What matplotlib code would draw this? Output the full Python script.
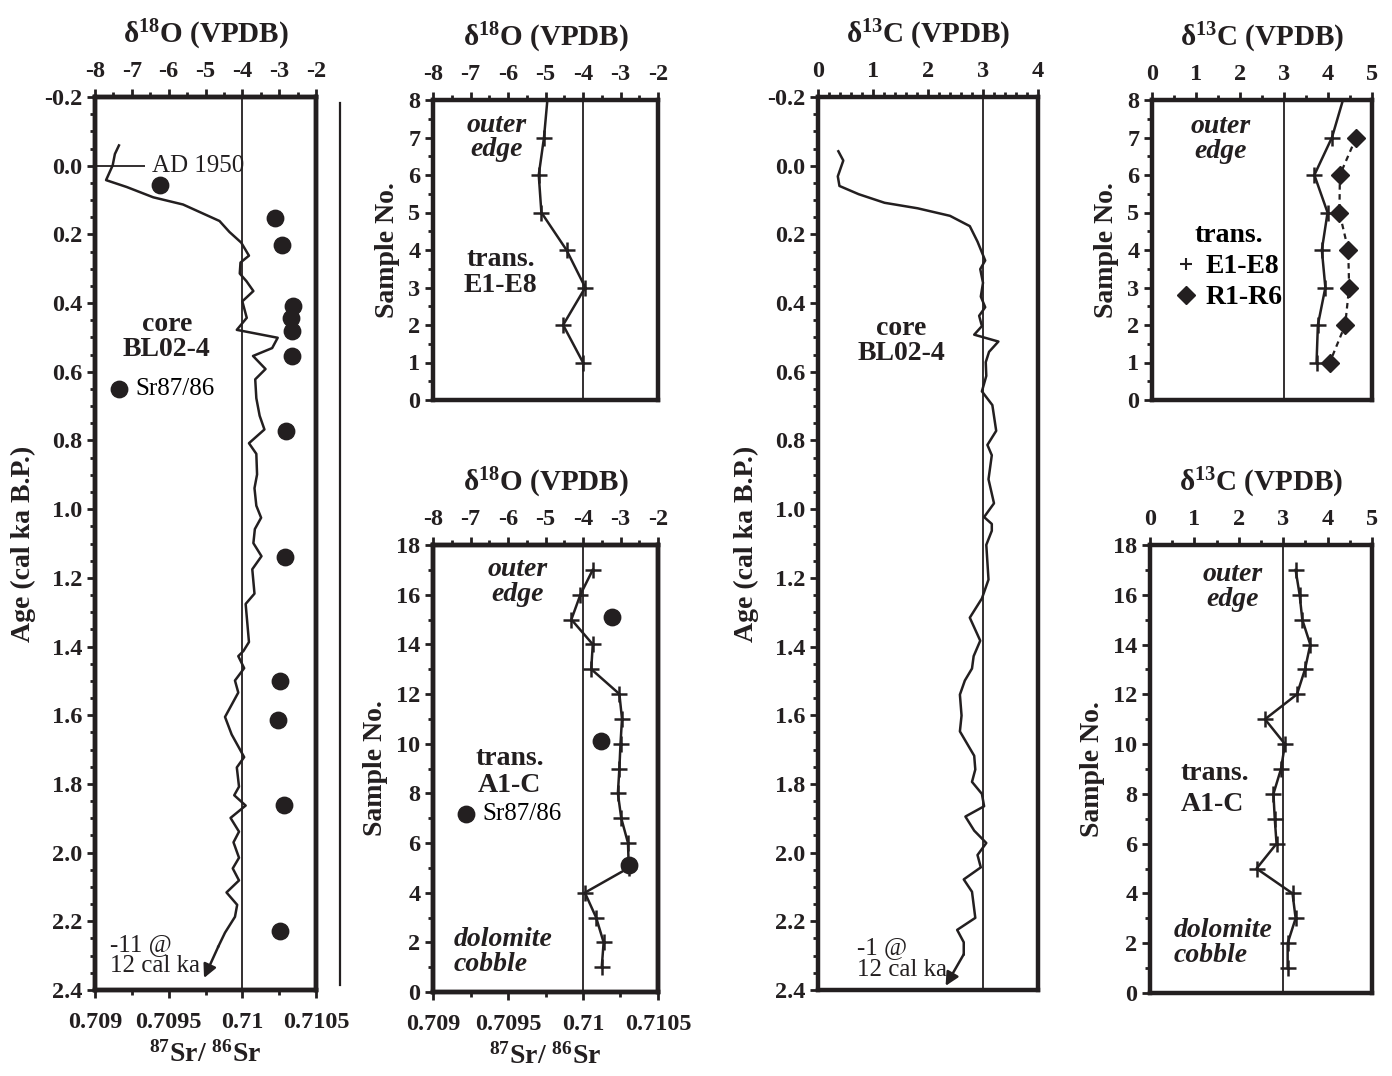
import matplotlib
matplotlib.use("Agg")
import matplotlib.pyplot as plt
from matplotlib.lines import Line2D
from matplotlib.ticker import MultipleLocator, FormatStrFormatter

plt.rcParams['font.family'] = ['Liberation Serif', 'DejaVu Serif']
plt.rcParams['font.weight'] = 'bold'
plt.rcParams['axes.labelweight'] = 'bold'
plt.rcParams['axes.unicode_minus'] = False
plt.rcParams['mathtext.fontset'] = 'custom'
plt.rcParams['mathtext.rm'] = 'Liberation Serif:bold'
plt.rcParams['mathtext.default'] = 'rm'

INK = '#231f20'

# ---- core BL02-4, d18O vs age (cal ka BP) ----
core_o_age = [-0.059, -0.034, -0.001, 0.042, 0.062, 0.092, 0.113, 0.161, 0.193, 0.224,
              0.262, 0.282, 0.314, 0.336, 0.365, 0.395, 0.443, 0.478, 0.501, 0.531,
              0.554, 0.592, 0.622, 0.677, 0.728, 0.768, 0.808, 0.839, 0.899, 0.939,
              0.990, 1.025, 1.058, 1.099, 1.137, 1.175, 1.246, 1.276, 1.387, 1.413,
              1.428, 1.463, 1.499, 1.534, 1.605, 1.656, 1.722, 1.752, 1.808, 1.833,
              1.863, 1.899, 1.939, 1.970, 2.015, 2.046, 2.081, 2.116, 2.152, 2.187,
              2.233, 2.273, 2.365]
core_o = [-7.35, -7.46, -7.52, -7.70, -7.14, -6.42, -5.61, -4.62, -4.35, -4.03,
          -3.82, -4.05, -4.07, -3.89, -3.70, -4.00, -3.88, -4.15, -3.04, -3.19,
          -3.71, -3.37, -3.65, -3.62, -3.53, -3.40, -3.82, -3.62, -3.60, -3.67,
          -3.62, -3.49, -3.66, -3.70, -3.48, -3.73, -3.67, -3.91, -3.82, -3.97,
          -4.11, -3.95, -4.20, -4.11, -4.47, -4.29, -3.95, -4.15, -4.09, -4.22,
          -3.91, -4.32, -4.09, -4.24, -4.09, -4.26, -4.09, -4.43, -4.14, -4.20,
          -4.47, -4.65, -5.04]

# ---- core Sr87/86 ----
core_sr_age = [0.057, 0.151, 0.232, 0.408, 0.443, 0.481, 0.554, 0.771,
               1.139, 1.500, 1.613, 1.861, 2.228]
core_sr = [0.70944, 0.710225, 0.71027, 0.710342, 0.710327, 0.710338, 0.710338,
           0.710298, 0.71029, 0.710255, 0.710245, 0.710283, 0.710255]

# ---- core BL02-4, d13C vs age ----
core_c_age = [-0.042, -0.015, 0.031, 0.059, 0.083, 0.108, 0.124, 0.146, 0.176, 0.221,
              0.276, 0.301, 0.341, 0.381, 0.412, 0.437, 0.467, 0.492, 0.512, 0.542,
              0.572, 0.612, 0.657, 0.697, 0.772, 0.813, 0.843, 0.913, 0.983, 1.023,
              1.043, 1.063, 1.104, 1.205, 1.260, 1.316, 1.383, 1.428, 1.464, 1.499,
              1.540, 1.601, 1.647, 1.688, 1.718, 1.758, 1.794, 1.829, 1.865, 1.895,
              1.936, 1.972, 2.007, 2.043, 2.078, 2.114, 2.190, 2.225, 2.261, 2.296,
              2.388]
core_c = [0.37, 0.46, 0.36, 0.39, 0.74, 1.21, 1.81, 2.40, 2.76, 2.90,
          3.04, 2.95, 3.00, 2.96, 3.04, 2.93, 2.98, 2.84, 3.28, 3.11,
          3.05, 3.06, 2.98, 3.17, 3.24, 3.08, 3.16, 3.10, 3.20, 3.02,
          3.16, 3.16, 3.06, 3.10, 2.98, 2.76, 2.95, 2.83, 2.80, 2.67,
          2.58, 2.61, 2.58, 2.73, 2.84, 2.86, 2.80, 2.98, 3.02, 2.68,
          2.84, 3.06, 2.90, 2.96, 2.65, 2.80, 2.86, 2.53, 2.65, 2.65,
          2.32]

# ---- transect E1-E8 / R1-R6 ----
e_sample = [8, 7, 6, 5, 4, 3, 2, 1]
e_o = [-4.95, -5.04, -5.18, -5.11, -4.44, -3.94, -4.53, -4.00]
e_c = [4.34, 4.09, 3.69, 3.99, 3.86, 3.94, 3.77, 3.74]
r_sample = [7, 6, 5, 4, 3, 2, 1]
r_c = [4.64, 4.27, 4.26, 4.46, 4.48, 4.39, 4.04]

# ---- transect A1-C ----
a_sample = [17, 16, 15, 14, 13, 12, 11, 10, 9, 8, 7, 6, 5, 4, 3, 2, 1]
a_o = [-3.74, -4.07, -4.31, -3.74, -3.78, -3.03, -2.96, -3.00, -3.03, -3.07,
       -2.98, -2.80, -2.78, -3.95, -3.65, -3.45, -3.50]
a_c = [3.28, 3.37, 3.43, 3.61, 3.49, 3.31, 2.59, 3.04, 2.95, 2.78,
       2.81, 2.85, 2.40, 3.21, 3.28, 3.10, 3.10]
a_sr_sample = [15.1, 10.1, 5.1]
a_sr = [0.710195, 0.71012, 0.710305]

sr_ticks = [0.709, 0.7095, 0.710, 0.7105]
sr_labels = ['0.709', '0.7095', '0.71', '0.7105']

O_TITLE = r'δ$^{18}$O (VPDB)'
C_TITLE = r'δ$^{13}$C (VPDB)'
SR_TITLE = r'$^{87}$Sr/ $^{86}$Sr'


def rect(l, t, r, b):
    return [l / 1392, 1 - b / 1076, (r - l) / 1392, (b - t) / 1076]


def frame(ax, xlim, xmin, ylim, ymaj, ymin, yfmt, title, ylabel):
    ax.xaxis.tick_top()
    ax.xaxis.set_label_position('top')
    ax.set_xlim(*xlim)
    ax.set_ylim(*ylim)
    ax.xaxis.set_major_locator(MultipleLocator(1))
    ax.xaxis.set_minor_locator(MultipleLocator(xmin))
    ax.xaxis.set_major_formatter(FormatStrFormatter('%d'))
    ax.yaxis.set_major_locator(MultipleLocator(ymaj))
    ax.yaxis.set_minor_locator(MultipleLocator(ymin))
    ax.yaxis.set_major_formatter(FormatStrFormatter(yfmt))
    ax.tick_params(which='both', direction='out', width=2, color=INK,
                   labelcolor=INK, labelsize=17.5)
    ax.tick_params(which='major', length=6, pad=3)
    ax.tick_params(axis='x', which='major', pad=5)
    ax.tick_params(which='minor', length=3.5)
    for s in ax.spines.values():
        s.set_linewidth(3.2)
        s.set_color(INK)
    ax.set_xlabel(title, fontsize=21, fontweight='bold', labelpad=13, color=INK)
    ax.set_ylabel(ylabel, fontsize=20, fontweight='bold', labelpad=6, color=INK)


def sr_axis(ax):
    tw = ax.twiny()
    tw.set_xlim(0.709, 0.7105)
    tw.xaxis.tick_bottom()
    tw.xaxis.set_label_position('bottom')
    tw.set_xticks(sr_ticks, sr_labels)
    tw.xaxis.set_minor_locator(MultipleLocator(0.00025))
    tw.tick_params(which='both', direction='out', width=2, color=INK,
                   labelcolor=INK, labelsize=17.5)
    tw.tick_params(which='major', length=6, pad=10)
    tw.tick_params(which='minor', length=3.5)
    for s in tw.spines.values():
        s.set_linewidth(3.2)
        s.set_color(INK)
    tw.set_xlabel(SR_TITLE, fontsize=20, fontweight='bold', labelpad=6, color=INK)
    return tw


def sr_legend(tw, ax, x, y, h):
    tw.legend(handles=[h], loc='center left', bbox_to_anchor=(x, y),
              bbox_transform=ax.transData, frameon=False, scatterpoints=1,
              handlelength=0.8, handletextpad=0.25, borderpad=0, borderaxespad=0,
              prop=dict(size=18, weight='normal'))


def core_arrow(ax, xs, ys):
    ax.annotate('', xy=(xs[-1], ys[-1]), xytext=(xs[-2], ys[-2]),
                arrowprops=dict(arrowstyle='-|>', lw=1.8, color=INK,
                                mutation_scale=20, shrinkA=0, shrinkB=0))


fig = plt.figure(figsize=(13.92, 10.76), dpi=100)

# ---------------- panel 1: core d18O + Sr ----------------
ax1 = fig.add_axes(rect(95, 97, 316, 990))
tw1 = sr_axis(ax1)
frame(ax1, (-8, -2), 0.5, (2.4, -0.2), 0.2, 0.05, '%.1f', O_TITLE, 'Age (cal ka B.P.)')
ax1.axvline(-4, color=INK, lw=1.3)
ax1.plot(core_o[:-1], core_o_age[:-1], color=INK, lw=1.8)
core_arrow(ax1, core_o, core_o_age)
ax1.hlines(0, -8, -6.65, color=INK, lw=1.3)
ax1.text(-6.45, 0.0, 'AD 1950', va='center', ha='left', fontsize=18,
         fontweight='normal', color=INK)
ax1.text(-6.05, 0.50, 'core\nBL02-4', ha='center', va='center', fontsize=20,
         linespacing=1.0, color=INK)
ax1.text(-7.6, 2.30, '-11 @\n12 cal ka', ha='left', va='center', fontsize=18,
         fontweight='normal', linespacing=0.95, color=INK)
h1 = tw1.scatter(core_sr, core_sr_age, s=140, color=INK, label='Sr87/86', zorder=5)
sr_legend(tw1, ax1, -7.62, 0.65, h1)

# separator line right of panel 1
fig.add_artist(Line2D([340 / 1392, 340 / 1392], [1 - 103 / 1076, 1 - 985 / 1076],
                      color=INK, lw=1.6))

# ---------------- panel 2: E1-E8 d18O ----------------
ax2 = fig.add_axes(rect(433, 100, 658, 400))
frame(ax2, (-8, -2), 0.5, (0, 8), 1, 0.5, '%d', O_TITLE, 'Sample No.')
ax2.axvline(-4, color=INK, lw=1.3)
ax2.plot(e_o, e_sample, color=INK, lw=1.8, marker='+', ms=11, mew=1.8,
         markevery=slice(1, None))
ax2.text(-6.3, 7.0, 'outer\nedge', style='italic', ha='center', va='center',
         fontsize=20, linespacing=1.0, color=INK)
ax2.text(-6.2, 3.4, 'trans.\nE1-E8', ha='center', va='center', fontsize=20,
         linespacing=1.0, color=INK)

# ---------------- panel 3: A1-C d18O + Sr ----------------
ax3 = fig.add_axes(rect(433, 545, 658, 992))
tw3 = sr_axis(ax3)
frame(ax3, (-8, -2), 0.5, (0, 18), 2, 1, '%d', O_TITLE, 'Sample No.')
ax3.axvline(-4, color=INK, lw=1.3)
ax3.plot(a_o, a_sample, color=INK, lw=1.8, marker='+', ms=11, mew=1.8)
h3 = tw3.scatter(a_sr, a_sr_sample, s=140, color=INK, label='Sr87/86', zorder=5)
sr_legend(tw3, ax3, -7.38, 7.16, h3)
ax3.text(-5.75, 16.5, 'outer\nedge', style='italic', ha='center', va='center',
         fontsize=20, linespacing=1.0, color=INK)
ax3.text(-5.95, 8.85, 'trans.\nA1-C', ha='center', va='center', fontsize=20,
         linespacing=1.1, color=INK)
ax3.text(-7.45, 1.6, 'dolomite\ncobble', style='italic', ha='left', va='center',
         fontsize=20, linespacing=1.0, color=INK)

# ---------------- panel 4: core d13C ----------------
ax4 = fig.add_axes(rect(818, 97, 1038, 990))
frame(ax4, (0, 4), 0.2, (2.4, -0.2), 0.2, 0.05, '%.1f', C_TITLE, 'Age (cal ka B.P.)')
ax4.axvline(3, color=INK, lw=1.3)
ax4.plot(core_c[:-1], core_c_age[:-1], color=INK, lw=1.8)
core_arrow(ax4, core_c, core_c_age)
ax4.text(1.51, 0.51, 'core\nBL02-4', ha='center', va='center', fontsize=20,
         linespacing=1.0, color=INK)
ax4.text(0.71, 2.31, '-1 @\n12 cal ka', ha='left', va='center', fontsize=18,
         fontweight='normal', linespacing=0.95, color=INK)

# ---------------- panel 5: E1-E8 / R1-R6 d13C ----------------
ax5 = fig.add_axes(rect(1152, 100, 1372, 400))
frame(ax5, (0, 5), 0.5, (0, 8), 1, 0.5, '%d', C_TITLE, 'Sample No.')
ax5.axvline(3, color=INK, lw=1.3)
ax5.plot(e_c, e_sample, color=INK, lw=1.8, marker='+', ms=11, mew=1.8,
         markevery=slice(1, None))
ax5.plot(r_c, r_sample, color=INK, lw=1.6, ls=(0, (2.5, 2)), marker='D', ms=9)
ax5.text(1.55, 6.95, 'outer\nedge', style='italic', ha='center', va='center',
         fontsize=20, linespacing=1.0, color=INK)
leg_handles = [Line2D([], [], color=INK, ls='none', marker='+', ms=8, mew=1.5),
               Line2D([], [], color=INK, ls='none', marker='D', ms=9)]
leg5 = ax5.legend(leg_handles, ['E1-E8', 'R1-R6'], title='trans.', loc='center',
                  bbox_to_anchor=(1.75, 3.55), bbox_transform=ax5.transData,
                  frameon=False, handlelength=0.8, handletextpad=0.3,
                  labelspacing=0.2, borderpad=0, borderaxespad=0,
                  prop=dict(size=20, weight='bold'),
                  title_fontproperties=dict(size=20, weight='bold'))

# ---------------- panel 6: A1-C d13C ----------------
ax6 = fig.add_axes(rect(1150, 545, 1372, 993))
frame(ax6, (0, 5), 0.5, (0, 18), 2, 1, '%d', C_TITLE, 'Sample No.')
ax6.axvline(3, color=INK, lw=1.3)
ax6.plot(a_c, a_sample, color=INK, lw=1.8, marker='+', ms=11, mew=1.8)
ax6.text(1.85, 16.3, 'outer\nedge', style='italic', ha='center', va='center',
         fontsize=20, linespacing=1.0, color=INK)
ax6.text(0.69, 8.2, 'trans.\nA1-C', ha='left', va='center', fontsize=20,
         linespacing=1.35, color=INK)
ax6.text(0.54, 2.0, 'dolomite\ncobble', style='italic', ha='left', va='center',
         fontsize=20, linespacing=1.0, color=INK)

fig.savefig('out.png', dpi=100)
